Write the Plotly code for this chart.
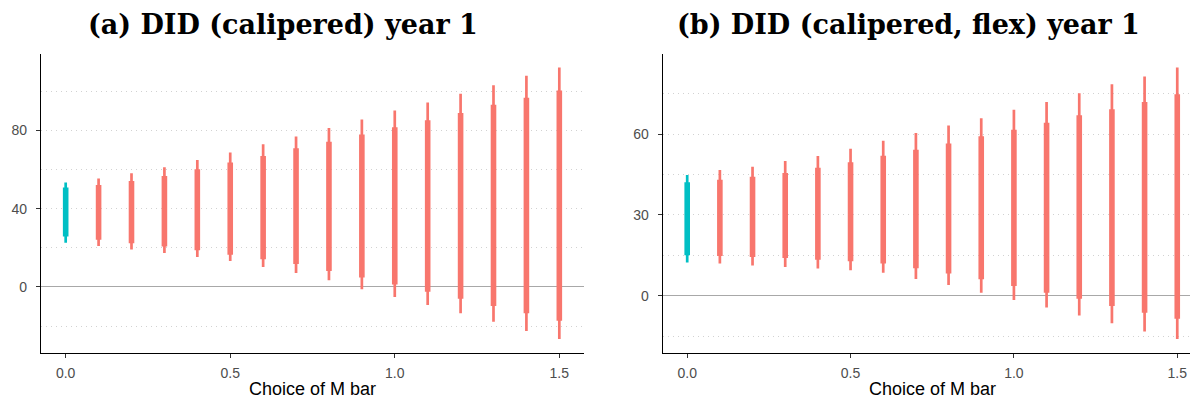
import plotly.graph_objects as go

# Sensitivity analysis: robust confidence sets by choice of M bar
m_bar = [0.0, 0.1, 0.2, 0.3, 0.4, 0.5, 0.6, 0.7, 0.8, 0.9, 1.0, 1.1, 1.2, 1.3, 1.4, 1.5]
m_ticks = [0.0, 0.5, 1.0, 1.5]
m_tick_labels = ["0.0", "0.5", "1.0", "1.5"]

# Panel (a): DID (calipered), year 1
a_outer_lo = [22.6, 20.9, 19.2, 17.3, 15.3, 13.2, 10.2, 7.1, 3.4, -1.2, -5.1, -9.3, -13.5, -17.8, -22.5, -26.7]
a_outer_hi = [53.4, 55.4, 58.1, 61.2, 64.9, 68.8, 73.0, 77.0, 81.3, 85.6, 90.2, 94.4, 98.8, 103.2, 108.0, 112.2]
a_inner_lo = [25.8, 24.1, 22.4, 20.7, 18.8, 16.5, 14.1, 11.7, 8.1, 4.8, 1.2, -2.5, -6.1, -9.8, -13.5, -17.3]
a_inner_hi = [50.8, 52.2, 54.2, 56.8, 60.2, 63.6, 67.0, 70.9, 74.2, 78.0, 81.7, 85.3, 89.0, 93.2, 96.8, 100.5]
a_y_ticks = [0, 40, 80]

# Panel (b): DID (calipered, flex), year 1
b_outer_lo = [12.3, 12.0, 11.2, 10.7, 10.1, 9.5, 8.5, 6.2, 4.0, 1.1, -1.6, -4.4, -7.3, -10.2, -13.3, -16.1]
b_outer_hi = [44.8, 46.7, 47.9, 50.0, 51.9, 54.6, 57.5, 60.4, 63.2, 65.9, 69.0, 71.9, 75.2, 78.5, 81.4, 84.7]
b_inner_lo = [15.0, 14.8, 14.4, 14.0, 13.4, 12.8, 12.0, 10.2, 8.3, 6.1, 3.6, 1.1, -1.1, -3.8, -6.3, -8.5]
b_inner_hi = [42.1, 43.1, 44.2, 45.6, 47.5, 49.6, 52.0, 54.2, 56.5, 59.2, 61.6, 64.2, 67.0, 69.2, 71.9, 74.8]
b_y_ticks = [0, 30, 60]

ORIGINAL = "#00BFC4"
ROBUST = "#F8766D"
GRID = "#D2D2D2"
GRID_DASH = "1px,4px"
TICK_TEXT = "#4D4D4D"

W, H = 1190, 400
fig = go.Figure()


def add_panel(xa, ya, outer_lo, outer_hi, inner_lo, inner_hi):
    for i, m in enumerate(m_bar):
        color = ORIGINAL if i == 0 else ROBUST
        fig.add_trace(go.Scatter(
            x=[m, m], y=[outer_lo[i], outer_hi[i]], mode="lines",
            line=dict(color=color, width=2.7), xaxis=xa, yaxis=ya,
            hoverinfo="skip", showlegend=False))
        fig.add_trace(go.Scatter(
            x=[m, m], y=[inner_lo[i], inner_hi[i]], mode="lines",
            line=dict(color=color, width=5.6), xaxis=xa, yaxis=ya,
            hoverinfo="skip", showlegend=False))


add_panel("x", "y", a_outer_lo, a_outer_hi, a_inner_lo, a_inner_hi)
add_panel("x2", "y2", b_outer_lo, b_outer_hi, b_inner_lo, b_inner_hi)


def padded(lo, hi, frac=0.05):
    span = hi - lo
    return [lo - frac * span, hi + frac * span]


tick_font = dict(family="Liberation Sans, Arial, sans-serif", size=14, color=TICK_TEXT)

x_common = dict(
    showline=True, linecolor="black", linewidth=1.2, mirror=False,
    ticks="outside", ticklen=4, tickwidth=1.1, tickcolor="#333333",
    tickvals=m_ticks, ticktext=m_tick_labels, tickfont=tick_font,
    showgrid=False, zeroline=False, ticklabelstandoff=3,
)
y_common = dict(
    showline=True, linecolor="black", linewidth=1.2,
    ticks="outside", ticklen=4, tickwidth=1.1, tickcolor="#333333",
    tickfont=tick_font, ticklabelstandoff=6,
    showgrid=True, gridcolor=GRID, griddash=GRID_DASH, gridwidth=1,
    zeroline=True, zerolinecolor="#A8A8A8", zerolinewidth=1.2,
)

y_dom = [1 - 352.7 / H, 1 - 54 / H]

fig.update_layout(
    width=W, height=H, margin=dict(l=0, r=0, t=0, b=0),
    paper_bgcolor="white", plot_bgcolor="white",
    xaxis=dict(domain=[41 / W, 584 / W], anchor="y", range=[-0.075, 1.575], **x_common),
    yaxis=dict(domain=y_dom, anchor="x",
               range=padded(min(a_outer_lo), max(a_outer_hi)),
               tickvals=a_y_ticks,
               minor=dict(dtick=20, tick0=0, showgrid=True, gridcolor=GRID,
                          griddash=GRID_DASH, gridwidth=1, ticks=""),
               **y_common),
    xaxis2=dict(domain=[662.7 / W, 1.0], anchor="y2", range=[-0.075, 1.539], **x_common),
    yaxis2=dict(domain=y_dom, anchor="x2",
                range=padded(min(b_outer_lo), max(b_outer_hi)),
                tickvals=b_y_ticks,
                minor=dict(dtick=15, tick0=0, showgrid=True, gridcolor=GRID,
                           griddash=GRID_DASH, gridwidth=1, ticks=""),
                **y_common),
)

title_font = dict(family="DejaVu Serif, serif", size=27, color="black")
axis_title_font = dict(family="Liberation Sans, Arial, sans-serif", size=18, color="black")

annotations = [
    dict(text="<b>(a) DID (calipered) year 1</b>", x=282.5 / W, y=1 - 24 / H,
         font=title_font),
    dict(text="<b>(b) DID (calipered, flex) year 1</b>", x=908 / W, y=1 - 24 / H,
         font=title_font),
    dict(text="Choice of M bar", x=312.5 / W, y=1 - 389 / H, font=axis_title_font),
    dict(text="Choice of M bar", x=932 / W, y=1 - 389 / H, font=axis_title_font),
]
for a in annotations:
    fig.add_annotation(xref="paper", yref="paper", xanchor="center", yanchor="middle",
                       showarrow=False, **a)

fig.write_html("out.html")
